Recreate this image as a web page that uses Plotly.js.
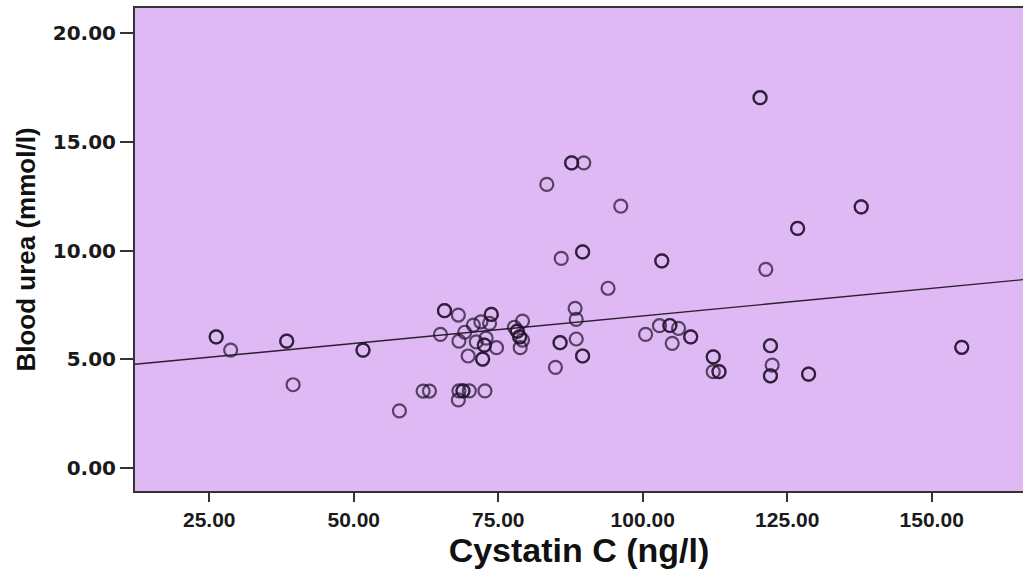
<!DOCTYPE html>
<html>
<head>
<meta charset="utf-8">
<script src="https://cdn.plot.ly/plotly-3.0.1.min.js"></script>
<style>html,body{margin:0;padding:0;background:#fff;}#chart{width:1023px;height:570px;}</style>
</head>
<body>
<div id="chart"></div>
<script>
// Cystatin C (ng/l) and Blood urea (mmol/l)
const cystatin = [
  26.2, 26.2, 28.7, 38.4, 38.4, 39.5, 51.6, 51.6, 57.9, 62.0, 63.1,
  65.7, 65.7, 65.0, 68.1, 73.8, 73.8, 88.3, 88.5, 79.2, 70.7, 72.0, 73.5,
  77.8, 78.3, 78.3, 78.7, 78.7, 69.2, 68.2, 71.2, 72.6, 72.6, 72.9, 74.7,
  79.2, 78.8, 69.8, 72.3, 72.3, 85.7, 85.7, 88.5, 89.6, 89.6, 84.9,
  100.5, 102.9, 104.7, 104.7, 106.2, 105.1, 108.3, 108.3, 112.2, 112.2,
  112.2, 113.2, 113.2, 122.1, 122.1, 122.4, 122.1, 122.1, 128.7, 128.7,
  155.2, 155.2, 68.2, 68.9, 68.9, 70.0, 72.7, 68.1,
  87.7, 87.7, 89.8, 83.4, 96.2, 89.6, 89.6, 85.9, 103.3, 103.3, 94.0,
  121.3, 120.3, 120.3, 137.8, 137.8, 126.8, 126.8
];
const urea = [
  6.04, 6.04, 5.43, 5.84, 5.84, 3.84, 5.43, 5.43, 2.64, 3.55, 3.55,
  7.24, 7.24, 6.15, 7.04, 7.07, 7.07, 7.35, 6.84, 6.76, 6.58, 6.73, 6.66,
  6.48, 6.30, 6.30, 6.04, 6.04, 6.25, 5.84, 5.81, 5.66, 5.66, 5.98, 5.54,
  5.89, 5.54, 5.16, 5.02, 5.02, 5.77, 5.77, 5.94, 5.16, 5.16, 4.64,
  6.15, 6.55, 6.56, 6.56, 6.43, 5.74, 6.04, 6.04, 5.12, 5.12,
  4.44, 4.44, 4.44, 5.63, 5.63, 4.74, 4.25, 4.25, 4.33, 4.33,
  5.56, 5.56, 3.56, 3.56, 3.56, 3.56, 3.56, 3.14,
  14.03, 14.03, 14.03, 13.04, 12.04, 9.94, 9.94, 9.64, 9.53, 9.53, 8.27,
  9.14, 17.02, 17.02, 12.01, 12.01, 11.02, 11.02
];
// Fit line (intercept, slope)
const fitIntercept = 4.47;
const fitSlope = 0.0253;
const xRange = [12.15, 165.8];
const yRange = [-1.04, 21.14];
const xTicks = [25, 50, 75, 100, 125, 150];
const yTicks = [0, 5, 10, 15, 20];

const fitX = xRange.slice();
const fitY = fitX.map(v => fitIntercept + fitSlope * v);

const traces = [
  {
    x: fitX, y: fitY, type: 'scatter', mode: 'lines',
    line: {color: '#2b1f33', width: 1.4}, hoverinfo: 'skip', showlegend: false
  },
  {
    x: cystatin, y: urea, type: 'scatter', mode: 'markers',
    marker: {symbol: 'circle-open', size: 13, color: 'rgba(35,20,45,0.72)', line: {width: 2.2}},
    showlegend: false
  }
];

const layout = {
  width: 1023, height: 570,
  margin: {l: 135, r: 0, t: 8, b: 79},
  paper_bgcolor: '#ffffff',
  plot_bgcolor: '#DEB9F3',
  showlegend: false,
  xaxis: {
    range: xRange, tickvals: xTicks, tickformat: '.2f',
    ticks: 'outside', ticklen: 9, tickwidth: 2, tickcolor: '#333',
    showline: true, linecolor: '#333', linewidth: 2, mirror: true,
    showgrid: false, zeroline: false,
    tickfont: {family: 'Liberation Sans, Arial, sans-serif', size: 21, weight: 'bold', color: '#1a1a1a'},
    title: {text: 'Cystatin C (ng/l)', standoff: 2,
      font: {family: 'Liberation Sans, Arial, sans-serif', size: 34, weight: 'bold', color: '#111'}}
  },
  yaxis: {
    range: yRange, tickvals: yTicks, tickformat: '.2f',
    ticks: 'outside', ticklen: 13, tickwidth: 2, tickcolor: '#333',
    showline: true, linecolor: '#333', linewidth: 2, mirror: false,
    showgrid: false, zeroline: false,
    tickfont: {family: 'DejaVu Sans', size: 20, weight: 'bold', color: '#1a1a1a'},
    title: {text: 'Blood urea (mmol/l)', standoff: 10,
      font: {family: 'Liberation Sans, Arial, sans-serif', size: 26, weight: 'bold', color: '#111'}}
  }
};

Plotly.newPlot('chart', traces, layout, {displayModeBar: false, staticPlot: true});
</script>
</body>
</html>
